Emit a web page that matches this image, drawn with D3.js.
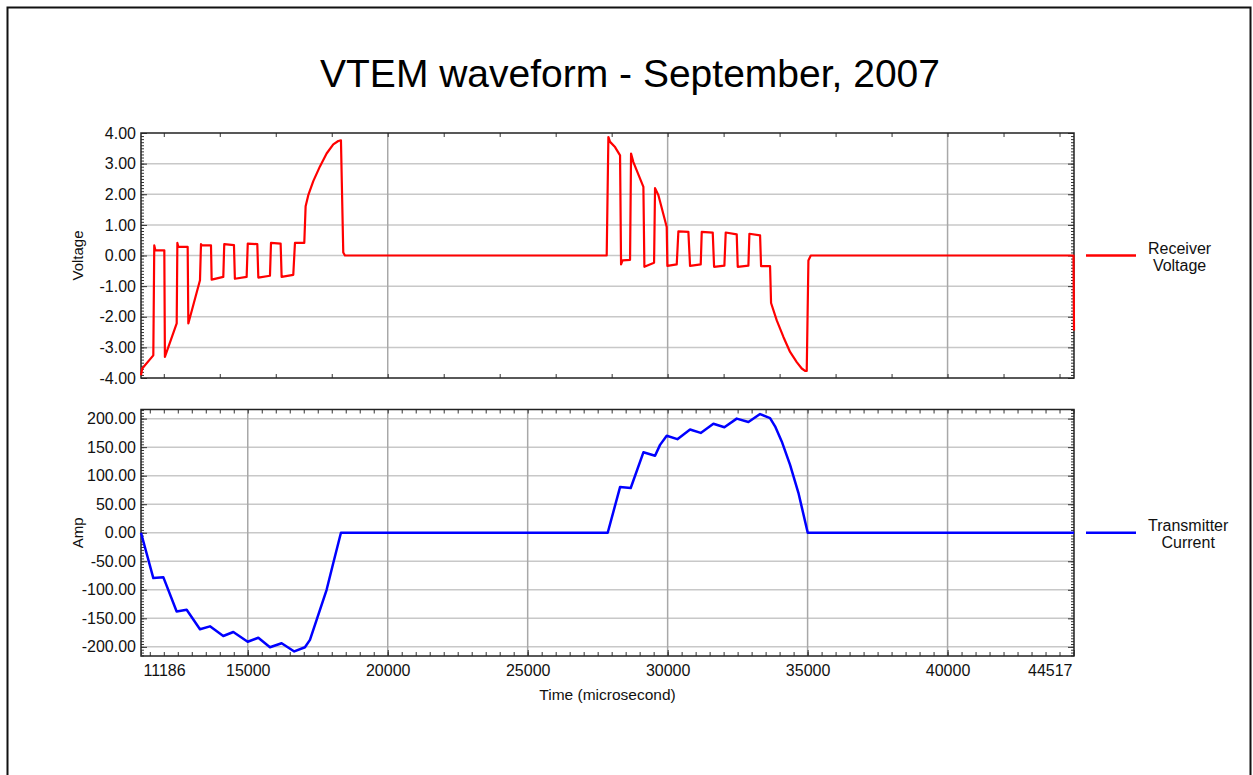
<!DOCTYPE html>
<html>
<head>
<meta charset="utf-8">
<script src="https://cdn.jsdelivr.net/npm/d3@7"></script>
<style>
  body { margin: 0; background: #fff; }
  svg { display: block; font-family: "Liberation Sans", Arial, sans-serif; }
</style>
</head>
<body>
<div id="chart"></div>
<script>
// data
let voltTime = [11186, 11230, 11626, 11660, 11700, 12019, 12040, 12461, 12485, 12520, 12853, 12877,
  13293, 13329, 13360, 13686, 13710, 14126, 14160, 14507, 14540, 14960, 15000, 15341, 15377, 15793,
  15830, 16174, 16210, 16626, 16686, 17019, 17067, 17162, 17341, 17579, 17817, 18055, 18234, 18329,
  18412, 18472, 27823, 27883, 27943, 28121, 28300, 28336, 28390, 28657, 28693, 28776, 29134, 29169,
  29515, 29550, 29670, 29967, 29991, 30325, 30384, 30741, 30801, 31182, 31218, 31611, 31659, 32027,
  32075, 32468, 32504, 32885, 32921, 33302, 33338, 33659, 33695, 33898, 34136, 34374, 34612, 34791,
  34910, 34969, 35029, 35113, 44500, 44517];
let voltValues = [-3.91, -3.69, -3.26, 0.33, 0.17, 0.17, -3.31, -2.22, 0.41, 0.28, 0.28, -2.22,
  -0.81, 0.37, 0.33, 0.33, -0.79, -0.70, 0.37, 0.34, -0.76, -0.70, 0.39, 0.37, -0.72, -0.66,
  0.41, 0.39, -0.70, -0.63, 0.41, 0.41, 1.61, 1.97, 2.43, 2.91, 3.33, 3.63, 3.74, 3.76,
  0.10, 0, 0, 3.87, 3.71, 3.54, 3.27, -0.29, -0.16, -0.14, 3.33, 3.05, 2.24, -0.37,
  -0.24, 2.20, 1.97, 0.93, -0.34, -0.29, 0.79, 0.77, -0.34, -0.29, 0.77, 0.75, -0.37, -0.33,
  0.75, 0.69, -0.37, -0.33, 0.71, 0.66, -0.35, -0.35, -1.55, -2.12, -2.66, -3.15, -3.48, -3.69,
  -3.77, -3.77, -0.16, 0, 0, -2.45];

let ampTime = [11186, 11626, 11983, 12460, 12817, 13293, 13650, 14126, 14484, 14997, 15377, 15793,
  16210, 16662, 17043, 17222, 17460, 17817, 18055, 18329, 27859, 28300, 28681, 29134, 29550, 29729,
  29967, 30348, 30801, 31182, 31635, 32027, 32468, 32885, 33302, 33659, 33838, 34076, 34374, 34672,
  35005, 44517];
let ampValues = [0, -79.5, -77.8, -138, -135, -169, -164, -181, -174, -191, -184, -200.6,
  -193.6, -208, -200.6, -187.7, -152.6, -100, -53, 0, 0, 80, 78.4, 141, 135, 154,
  170, 164, 181, 175, 191, 185, 200, 194, 208, 201, 186.5, 160, 119, 70,
  0, 0];

let timeTicks = [11186, 15000, 20000, 25000, 30000, 35000, 40000, 44517];
let voltTicks = [-4, -3, -2, -1, 0, 1, 2, 3, 4];
let ampTicks = [-200, -150, -100, -50, 0, 50, 100, 150, 200];

let svgWidth = 1253;
let svgHeight = 775;
let plotLeft = 141, plotRight = 1074;

let svg = d3.select("#chart")
    .append("svg")
    .attr("width", svgWidth)
    .attr("height", svgHeight);

// outer frame (bottom edge runs off the page)
svg.append("rect")
    .attr("x", 7.5).attr("y", 7.5)
    .attr("width", 1243).attr("height", 820)
    .attr("fill", "none").attr("stroke", "#111").attr("stroke-width", 2);

svg.append("text")
    .attr("x", 630).attr("y", 87)
    .attr("text-anchor", "middle")
    .attr("font-size", 39)
    .attr("fill", "#000")
    .text("VTEM waveform - September, 2007");

let x = d3.scaleLinear().domain([11186, 44517]).range([plotLeft, plotRight]);
let yV = d3.scaleLinear().domain([-4, 4]).range([378, 133]);
let yA = d3.scaleLinear().domain([-216, 216]).range([656, 409.5]);

// plain hyphen minus, like the original
let fmt2 = d => d.toFixed(2);

function minorRange(a, b, step) {
    return d3.range(Math.ceil(a / step) * step, b + step / 2, step).map(v => +v.toFixed(4));
}

// one panel: grid, ticks, frame, line, legend
function drawPanel(opt) {
    let y = opt.y;
    let top = y.range()[1], bottom = y.range()[0];
    let g = svg.append("g");

    // gridlines
    g.append("g").selectAll("line")
        .data(opt.hGrid)
        .enter().append("line")
        .attr("x1", plotLeft).attr("x2", plotRight)
        .attr("y1", d => y(d)).attr("y2", d => y(d))
        .attr("stroke", "#c8c8c8").attr("stroke-width", 1.5);
    g.append("g").selectAll("line")
        .data(opt.vGrid)
        .enter().append("line")
        .attr("x1", d => x(d)).attr("x2", d => x(d))
        .attr("y1", top).attr("y2", bottom)
        .attr("stroke", "#a8a8a8").attr("stroke-width", 1.5);

    // minor ticks on all four sides, pointing inward
    let yMinor = minorRange(y.domain()[0], y.domain()[1], opt.yMinor);
    g.append("g").attr("transform", `translate(${plotLeft},0)`)
        .call(d3.axisLeft(y).tickValues(yMinor).tickSize(-3).tickFormat(""));
    g.append("g").attr("transform", `translate(${plotRight},0)`)
        .call(d3.axisRight(y).tickValues(yMinor).tickSize(-3).tickFormat(""));
    g.append("g").attr("transform", `translate(${plotRight},0)`)
        .call(d3.axisRight(y).tickValues(opt.yTicks).tickSize(-6).tickFormat(""));
    g.append("g").attr("transform", `translate(0,${top})`)
        .call(d3.axisTop(x).tickValues(opt.xMinor).tickSize(-4).tickFormat(""));
    g.append("g").attr("transform", `translate(0,${bottom})`)
        .call(d3.axisBottom(x).tickValues(opt.xMinor).tickSize(-4).tickFormat(""));

    // labelled left axis
    let left = g.append("g").attr("transform", `translate(${plotLeft},0)`)
        .call(d3.axisLeft(y).tickValues(opt.yTicks).tickSize(-6).tickPadding(5)
            .tickFormat(fmt2));
    left.selectAll("text").attr("font-size", 16).attr("fill", "#111")
        .attr("font-family", "Liberation Sans, Arial, sans-serif");

    g.selectAll(".domain").remove();
    g.selectAll(".tick line").attr("stroke", "#333").attr("stroke-width", 1);

    // frame
    g.append("rect")
        .attr("x", plotLeft).attr("y", top)
        .attr("width", plotRight - plotLeft).attr("height", bottom - top)
        .attr("fill", "none").attr("stroke", "#222").attr("stroke-width", 1.5);

    // axis title
    g.append("text")
        .attr("transform", `translate(83,${(top + bottom) / 2}) rotate(-90)`)
        .attr("text-anchor", "middle")
        .attr("font-size", 15).attr("fill", "#111")
        .text(opt.title);

    // series
    let line = d3.line()
        .x((d, i) => x(opt.times[i]))
        .y(d => y(d));
    g.append("path")
        .datum(opt.values)
        .attr("d", line)
        .attr("fill", "none")
        .attr("stroke", opt.color)
        .attr("stroke-width", opt.width)
        .attr("stroke-linejoin", "round");

    // legend
    let ly = y(0);
    g.append("line")
        .attr("x1", 1086).attr("x2", 1136)
        .attr("y1", ly).attr("y2", ly)
        .attr("stroke", opt.color).attr("stroke-width", 2.5);
    let texts = opt.legend.map((s, i) => g.append("text")
        .attr("y", ly - 2 + i * 17.5)
        .attr("font-size", 16).attr("fill", "#111")
        .attr("text-anchor", "middle")
        .text(s));
    let widths = texts.map(t => t.node().getComputedTextLength());
    let maxW = d3.max(widths);
    texts.forEach(t => t.attr("x", 1148 + maxW / 2));

    return g;
}

drawPanel({
    y: yV,
    times: voltTime, values: voltValues,
    hGrid: [-3, -2, -1, 0, 1, 2, 3],
    vGrid: [20000, 30000, 40000],
    yTicks: voltTicks, yMinor: 0.1,
    xMinor: d3.range(12000, 44517, 2000),
    title: "Voltage",
    color: "#ff0000", width: 2.2,
    legend: ["Receiver", "Voltage"]
});

let bottomPanel = drawPanel({
    y: yA,
    times: ampTime, values: ampValues,
    hGrid: ampTicks,
    vGrid: [15000, 20000, 25000, 30000, 35000, 40000],
    yTicks: ampTicks, yMinor: 5,
    xMinor: d3.range(11500, 44517, 500),
    title: "Amp",
    color: "#0000ff", width: 2.5,
    legend: ["Transmitter", "Current"]
});

// time axis under the lower panel
let xAxis = bottomPanel.append("g")
    .attr("transform", `translate(0,${yA.range()[0]})`)
    .call(d3.axisBottom(x).tickValues(timeTicks).tickSize(-6).tickPadding(9)
        .tickFormat(d3.format("d")));
xAxis.select(".domain").remove();
xAxis.selectAll(".tick line").attr("stroke", "#333");
xAxis.selectAll("text")
    .attr("font-size", 16).attr("fill", "#111")
    .attr("font-family", "Liberation Sans, Arial, sans-serif")
    .attr("text-anchor", d => d === 11186 ? "start" : d === 44517 ? "end" : "middle")
    .attr("dx", d => d === 11186 ? 2 : d === 44517 ? -2 : 0);

bottomPanel.append("text")
    .attr("x", (plotLeft + plotRight) / 2).attr("y", 700)
    .attr("text-anchor", "middle")
    .attr("font-size", 15.5).attr("fill", "#111")
    .text("Time (microsecond)");
</script>
</body>
</html>
